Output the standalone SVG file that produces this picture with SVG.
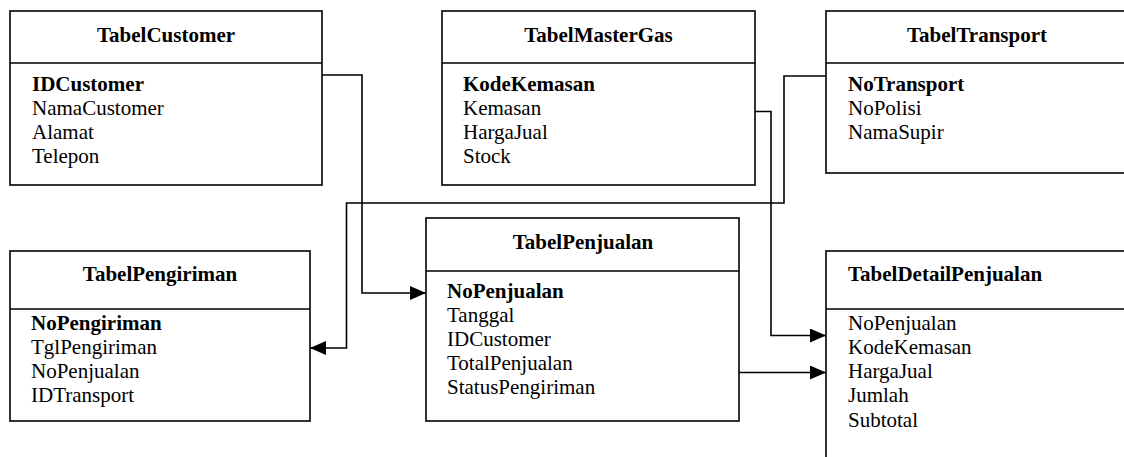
<svg xmlns="http://www.w3.org/2000/svg" width="1124" height="457" viewBox="0 0 1124 457">
  <style>
    .box { fill: #fff; stroke: #000; stroke-width: 1.6; }
    .sep { stroke: #000; stroke-width: 1.6; }
    .title { font-family: "Liberation Serif", "Times New Roman", serif; font-size: 21px; font-weight: bold; fill: #000; }
    .key { font-family: "Liberation Serif", "Times New Roman", serif; font-size: 21px; font-weight: bold; fill: #000; }
    .field { font-family: "Liberation Serif", "Times New Roman", serif; font-size: 21px; fill: #000; }
    .link { fill: none; stroke: #000; stroke-width: 1.6; }
  </style>
  <defs>
    <marker id="arrow" markerUnits="userSpaceOnUse" markerWidth="16" markerHeight="14" refX="16" refY="7" orient="auto">
      <path d="M0,0 L16,7 L0,14 Z" fill="#000"/>
    </marker>
  </defs>
  <rect width="1124" height="457" fill="#fff"/>

  <g id="TabelCustomer">
    <rect class="box" x="10" y="11" width="312" height="174"/>
    <line class="sep" x1="10" y1="63" x2="322" y2="63"/>
    <text class="title" x="166" y="42" text-anchor="middle">TabelCustomer</text>
    <text class="key" x="32" y="91">IDCustomer</text>
    <text class="field" x="32" y="115">NamaCustomer</text>
    <text class="field" x="32" y="139">Alamat</text>
    <text class="field" x="32" y="163">Telepon</text>
  </g>

  <g id="TabelMasterGas">
    <rect class="box" x="442" y="11" width="313" height="174"/>
    <line class="sep" x1="442" y1="63" x2="755" y2="63"/>
    <text class="title" x="598.5" y="42" text-anchor="middle">TabelMasterGas</text>
    <text class="key" x="463" y="91">KodeKemasan</text>
    <text class="field" x="463" y="115">Kemasan</text>
    <text class="field" x="463" y="139">HargaJual</text>
    <text class="field" x="463" y="163">Stock</text>
  </g>

  <g id="TabelTransport">
    <rect class="box" x="826" y="11" width="304" height="162"/>
    <line class="sep" x1="826" y1="63" x2="1130" y2="63"/>
    <text class="title" x="977" y="42" text-anchor="middle">TabelTransport</text>
    <text class="key" x="848" y="91">NoTransport</text>
    <text class="field" x="848" y="115">NoPolisi</text>
    <text class="field" x="848" y="139">NamaSupir</text>
  </g>

  <g id="TabelPengiriman">
    <rect class="box" x="10" y="251" width="300" height="170"/>
    <line class="sep" x1="10" y1="309" x2="310" y2="309"/>
    <text class="title" x="160" y="281" text-anchor="middle">TabelPengiriman</text>
    <text class="key" x="31" y="330">NoPengiriman</text>
    <text class="field" x="31" y="354">TglPengiriman</text>
    <text class="field" x="31" y="378">NoPenjualan</text>
    <text class="field" x="31" y="402">IDTransport</text>
  </g>

  <g id="TabelPenjualan">
    <rect class="box" x="426" y="218" width="313" height="203"/>
    <line class="sep" x1="426" y1="271" x2="739" y2="271"/>
    <text class="title" x="583" y="249" text-anchor="middle">TabelPenjualan</text>
    <text class="key" x="447" y="298">NoPenjualan</text>
    <text class="field" x="447" y="322">Tanggal</text>
    <text class="field" x="447" y="346">IDCustomer</text>
    <text class="field" x="447" y="370">TotalPenjualan</text>
    <text class="field" x="447" y="394">StatusPengiriman</text>
  </g>

  <g id="TabelDetailPenjualan">
    <rect class="box" x="826" y="251" width="304" height="220"/>
    <line class="sep" x1="826" y1="309" x2="1130" y2="309"/>
    <text class="title" x="848" y="281">TabelDetailPenjualan</text>
    <text class="field" x="848" y="330">NoPenjualan</text>
    <text class="field" x="848" y="354">KodeKemasan</text>
    <text class="field" x="848" y="378">HargaJual</text>
    <text class="field" x="848" y="402">Jumlah</text>
    <text class="field" x="848" y="427">Subtotal</text>
  </g>

  <g id="connectors">
    <!-- IDCustomer -> TabelPenjualan -->
    <path class="link" d="M322,75 H362 V293 H426" marker-end="url(#arrow)"/>
    <!-- NoTransport -> TabelPengiriman -->
    <path class="link" d="M826,76 H784 V203 H346.5 V348 H310" marker-end="url(#arrow)"/>
    <!-- KodeKemasan -> TabelDetailPenjualan -->
    <path class="link" d="M755,111.5 H771 V335.5 H826" marker-end="url(#arrow)"/>
    <!-- NoPenjualan -> TabelDetailPenjualan -->
    <path class="link" d="M739,372.5 H826" marker-end="url(#arrow)"/>
  </g>
</svg>
